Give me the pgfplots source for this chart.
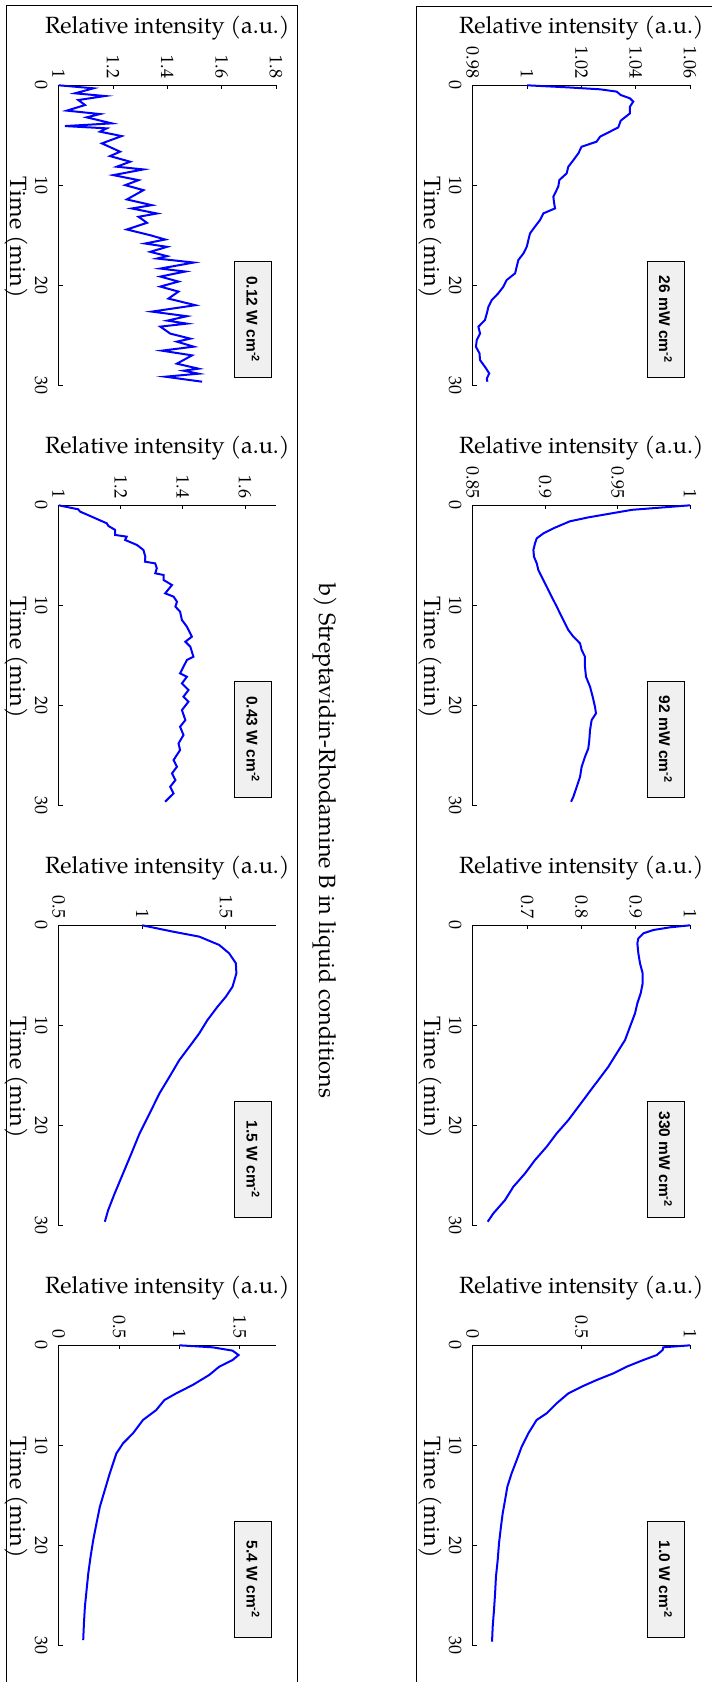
\documentclass[border=0pt]{standalone}
\usepackage{pgfplots}
\pgfplotsset{compat=1.18}
\usepackage{fontspec}
\setmainfont{TeX Gyre Pagella}
\newfontfamily\boxfont{Liberation Sans}
\definecolor{boxgray}{RGB}{240,240,240}
\definecolor{cblue}{RGB}{0,0,255}
\pgfplotsset{
  panel/.style={
    scale only axis, width=217.3pt, height=300.4pt,
    anchor=north west,
    y dir=reverse, ymin=0, ymax=30, ytick={0,10,20,30}, yticklabels={0,10,20,30},
    axis x line=top, axis y line=left,
    axis line style={-, draw=black, line width=1pt},
    every outer x axis line/.append style={-},
    every outer y axis line/.append style={-},
    tick style={draw=black, line width=0.8pt},
    major tick length=4pt, tick align=inside,
    tick label style={font=\fontsize{18}{20}\selectfont},
    xticklabel style={rotate=-90, anchor=east, inner sep=0pt},
    yticklabel style={rotate=-90, anchor=north, inner sep=0pt},
    xticklabel shift=7pt, yticklabel shift=11pt,
    /pgf/number format/assume math mode=true,
    clip=false,
  },
  curve/.style={cblue, line width=2pt, no marks},
}
\tikzset{
  boxnode/.style={draw=black, line width=0.7pt, fill=boxgray, rotate=-90,
    minimum width=116pt, minimum height=37pt, inner sep=0pt,
    font=\boxfont\bfseries\fontsize{15.5}{18}\selectfont},
  lab/.style={font=\fontsize{23.5}{28}\selectfont, inner sep=0pt},
}
\newcommand\labels[2]{%
  \node[lab, anchor=base] at (#1pt+108.7pt, -#2pt+52pt) {Relative intensity (a.u.)};
  \node[lab, rotate=-90, anchor=north] at (#1pt-31pt, -#2pt-152pt) {Time (min)};
}
\begin{document}
\begin{tikzpicture}
\useasboundingbox (0pt,0pt) rectangle (712pt,-1682pt);
\draw[line width=0.9pt] (6pt,-1700pt) -- (6pt,-5.3pt) -- (297.7pt,-5.3pt) -- (297.7pt,-1700pt);
\draw[line width=0.9pt] (416.7pt,-1700pt) -- (416.7pt,-6pt) -- (730pt,-6pt);
\node[lab, rotate=-90] at (325pt,-841pt) {b) Streptavidin-Rhodamine B in liquid conditions};

% ---------- right column ----------
\begin{axis}[panel, at={(472.7pt,-85.3pt)}, xmin=0.98, xmax=1.06,
  xtick={0.98,1,1.02,1.04,1.06}, xticklabels={0.98,1,1.02,1.04,1.06}]
\addplot[curve] coordinates {(1.000,0) (1.0146,0.2) (1.0269,0.4) (1.0330,0.63) (1.0345,0.97) (1.0379,1.3) (1.0391,1.63) (1.0379,2.13) (1.0379,2.8) (1.0345,3.53) (1.0336,4.2) (1.0293,4.8) (1.0269,5.13) (1.0256,5.63) (1.0201,6.13) (1.0189,6.79) (1.0171,7.46) (1.0152,8.13) (1.0146,8.79) (1.0119,9.46) (1.0115,10.12) (1.0097,11.12) (1.0099,11.62) (1.0103,12.29) (1.0060,12.79) (1.0048,13.45) (1.0029,14.12) (1.0011,14.79) (1.0005,15.45) (0.9999,16.12) (0.9987,16.78) (0.9968,17.45) (0.9962,18.12) (0.9956,18.78) (0.9925,19.45) (0.9913,20.11) (0.9894,20.78) (0.9870,21.45) (0.9858,22.11) (0.9852,22.78) (0.9845,23.44) (0.9821,24.11) (0.9827,24.78) (0.9815,25.44) (0.9812,26.11) (0.9825,26.77) (0.9827,27.44) (0.9845,28.11) (0.9861,28.77) (0.9852,29.27) (0.9854,29.6)};
\node[boxnode] at (rel axis cs:0.887,0.221) {26 mW cm\textsuperscript{-2}};
\end{axis}
\labels{472.7}{85.3}

\begin{axis}[panel, at={(472.7pt,-505.3pt)}, xmin=0.85, xmax=1,
  xtick={0.85,0.9,0.95,1}, xticklabels={0.85,0.9,0.95,1}]
\addplot[curve] coordinates {(1.000,0) (0.960,0.45) (0.930,1.2) (0.917,1.6) (0.9057,2.30) (0.8988,2.80) (0.8942,3.30) (0.8930,3.80) (0.8919,4.46) (0.8923,5.13) (0.8942,5.79) (0.8953,6.46) (0.8976,7.13) (0.9011,8.13) (0.9045,9.12) (0.9080,10.12) (0.9114,11.12) (0.9137,11.79) (0.9160,12.45) (0.9195,13.12) (0.9241,13.79) (0.9252,14.45) (0.9275,15.12) (0.9275,16.12) (0.9282,17.12) (0.9310,18.12) (0.9328,19.11) (0.9344,20.11) (0.9351,20.78) (0.9321,21.45) (0.9310,22.44) (0.9305,23.44) (0.9298,24.28) (0.9275,25.11) (0.9252,26.11) (0.9241,27.11) (0.9218,28.11) (0.9195,29.1) (0.9179,29.6)};
\node[boxnode] at (rel axis cs:0.887,0.221) {92 mW cm\textsuperscript{-2}};
\end{axis}
\labels{472.7}{505.3}

\begin{axis}[panel, at={(472.7pt,-925.3pt)}, xmin=0.6, xmax=1,
  xtick={0.7,0.8,0.9,1}, xticklabels={0.7,0.8,0.9,1}]
\addplot[curve] coordinates {(1.000,0) (0.9632,0.2) (0.9325,0.47) (0.9141,0.8) (0.9049,1.3) (0.9031,1.8) (0.9049,2.8) (0.9080,3.8) (0.9129,4.8) (0.9129,5.79) (0.9092,6.79) (0.9031,7.79) (0.8988,8.79) (0.8896,10.12) (0.8804,11.46) (0.8650,12.79) (0.8497,14.12) (0.8313,15.45) (0.8129,16.78) (0.7945,18.12) (0.7761,19.45) (0.7546,20.78) (0.7362,22.11) (0.7147,23.44) (0.6963,24.78) (0.6748,26.11) (0.6595,27.44) (0.6380,28.77) (0.6276,29.6)};
\node[boxnode] at (rel axis cs:0.887,0.221) {330 mW cm\textsuperscript{-2}};
\end{axis}
\labels{472.7}{925.3}

\begin{axis}[panel, at={(472.7pt,-1345.3pt)}, xmin=0, xmax=1,
  xtick={0,0.5,1}, xticklabels={0,0.5,1}]
\addplot[curve] coordinates {(1.000,0) (0.877,0.2) (0.874,0.47) (0.847,0.97) (0.785,1.47) (0.709,2.13) (0.647,2.8) (0.571,3.46) (0.5015,4.13) (0.440,4.8) (0.3865,5.79) (0.3405,6.79) (0.294,7.46) (0.256,8.79) (0.2255,10.12) (0.2025,11.46) (0.179,12.79) (0.1595,14.12) (0.149,15.45) (0.138,16.78) (0.130,18.12) (0.121,19.78) (0.115,21.45) (0.107,23.11) (0.103,24.78) (0.098,26.44) (0.092,28.1) (0.089,29.6)};
\node[boxnode] at (rel axis cs:0.887,0.221) {1.0 W cm\textsuperscript{-2}};
\end{axis}
\labels{472.7}{1345.3}

% ---------- left column ----------
\begin{axis}[panel, at={(58.7pt,-85.3pt)}, xmin=1, xmax=1.8,
  xtick={1,1.2,1.4,1.6,1.8}, xticklabels={1,1.2,1.4,1.6,1.8}]
\addplot[curve] coordinates {(1.00,0) (1.128,0.3) (1.06,0.8) (1.171,1.07) (1.072,1.47) (1.097,1.97) (1.03,2.53) (1.152,2.87) (1.103,3.2) (1.196,3.8) (1.023,4.07) (1.177,4.3) (1.152,4.63) (1.232,5.07) (1.159,5.8) (1.226,6.63) (1.189,7.07) (1.263,7.63) (1.214,8.13) (1.312,8.4) (1.201,8.97) (1.294,9.47) (1.245,9.97) (1.312,10.47) (1.251,11.4) (1.343,11.97) (1.269,12.3) (1.362,12.8) (1.294,13.13) (1.325,13.73) (1.251,14.4) (1.337,14.97) (1.392,15.4) (1.318,15.8) (1.399,16.13) (1.337,16.63) (1.399,17.06) (1.362,17.3) (1.497,17.7) (1.374,18.3) (1.466,18.6) (1.374,19.1) (1.441,19.6) (1.374,20.1) (1.441,20.6) (1.404,21.3) (1.503,21.96) (1.343,22.6) (1.472,23.06) (1.40,23.5) (1.472,23.8) (1.374,24.1) (1.411,24.8) (1.485,25.3) (1.435,25.6) (1.497,26.1) (1.380,26.5) (1.491,26.97) (1.435,27.8) (1.515,28.3) (1.46,28.5) (1.515,28.8) (1.392,29.1) (1.528,29.6)};
\node[boxnode] at (rel axis cs:0.894,0.221) {0.12 W cm\textsuperscript{-2}};
\end{axis}
\labels{58.7}{85.3}

\begin{axis}[panel, at={(58.7pt,-505.3pt)}, xmin=1, xmax=1.7,
  xtick={1,1.2,1.4,1.6}, xticklabels={1,1.2,1.4,1.6}]
\addplot[curve] coordinates {(1.000,0) (1.063,0.4) (1.069,0.63) (1.106,1.13) (1.155,1.8) (1.16,2.06) (1.182,2.46) (1.182,2.96) (1.219,3.13) (1.214,3.46) (1.252,3.96) (1.273,4.46) (1.279,5.13) (1.278,5.63) (1.311,5.8) (1.316,6.29) (1.311,6.79) (1.338,6.96) (1.338,7.46) (1.365,7.96) (1.343,8.79) (1.37,9.12) (1.381,9.62) (1.376,10.12) (1.391,10.62) (1.397,11.46) (1.413,12.12) (1.429,13.12) (1.408,13.62) (1.424,14.12) (1.434,15.12) (1.413,15.45) (1.391,16.78) (1.413,17.12) (1.397,17.78) (1.418,18.45) (1.402,19.11) (1.418,19.61) (1.397,20.45) (1.408,21.45) (1.391,22.11) (1.402,22.94) (1.386,23.78) (1.391,24.44) (1.370,25.44) (1.381,26.11) (1.365,26.77) (1.376,27.44) (1.359,28.11) (1.370,28.77) (1.348,29.44) (1.343,29.6)};
\node[boxnode] at (rel axis cs:0.894,0.221) {0.43 W cm\textsuperscript{-2}};
\end{axis}
\labels{58.7}{505.3}

\begin{axis}[panel, at={(58.7pt,-925.3pt)}, xmin=0.5, xmax=1.8,
  xtick={0.5,1,1.5}, xticklabels={0.5,1,1.5}]
\addplot[curve] coordinates {(1.000,0) (1.183,0.63) (1.341,1.13) (1.46,1.96) (1.52,2.8) (1.56,3.8) (1.563,4.8) (1.54,6.13) (1.50,7.13) (1.45,8.13) (1.39,9.46) (1.341,10.79) (1.282,12.12) (1.222,13.45) (1.163,15.12) (1.103,16.78) (1.044,18.78) (0.984,20.78) (0.935,22.78) (0.885,24.78) (0.835,26.77) (0.796,28.44) (0.776,29.6)};
\node[boxnode] at (rel axis cs:0.894,0.221) {1.5 W cm\textsuperscript{-2}};
\end{axis}
\labels{58.7}{925.3}

\begin{axis}[panel, at={(58.7pt,-1345.3pt)}, xmin=0, xmax=1.8,
  xtick={0,0.5,1,1.5}, xticklabels={0,0.5,1,1.5}]
\addplot[curve] coordinates {(1.000,0) (1.275,0.2) (1.44,0.53) (1.49,0.97) (1.44,1.47) (1.33,2.13) (1.247,2.96) (1.11,3.96) (0.973,4.8) (0.876,5.46) (0.808,6.46) (0.698,7.46) (0.615,8.79) (0.533,9.79) (0.478,10.79) (0.423,12.79) (0.382,14.45) (0.341,16.12) (0.313,17.78) (0.286,19.45) (0.264,21.11) (0.245,22.78) (0.231,24.44) (0.217,26.11) (0.209,27.77) (0.203,29.44)};
\node[boxnode] at (rel axis cs:0.894,0.221) {5.4 W cm\textsuperscript{-2}};
\end{axis}
\labels{58.7}{1345.3}
\end{tikzpicture}
\end{document}
